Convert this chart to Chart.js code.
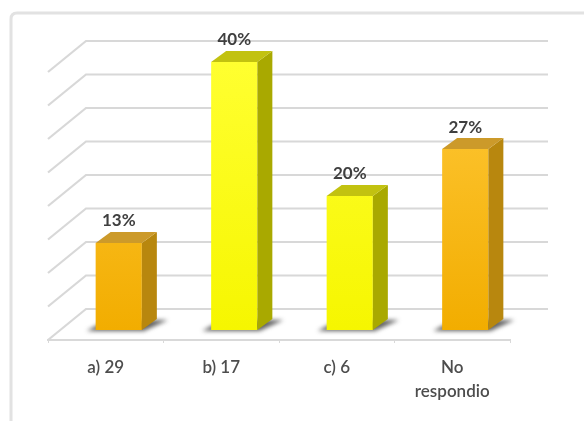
<!DOCTYPE html>
<html>
<head>
<meta charset="utf-8">
<script src="https://cdn.jsdelivr.net/npm/chart.js@4.4.1/dist/chart.umd.min.js"></script>
<style>
  html, body { margin: 0; padding: 0; background: #fff; }
  #wrap { width: 584px; height: 421px; }
</style>
</head>
<body>
<div id="wrap"><canvas id="myChart" width="584" height="421"></canvas></div>
<script>
// answers and their share (%)
var categories = ['a) 29', 'b) 17', 'c) 6', ['No', 'respondio']];
var percents = [13, 40, 20, 27];
var gridTicks = [0, 5, 10, 15, 20, 25, 30, 35, 40];

// face colours of each bar: front (top/bottom of gradient), side, top
var ORANGE = { light: '#FFC93A', dark: '#F2AD00', side: '#B8870E', top: '#CC9A2A' };
var YELLOW = { light: '#FFFF30', dark: '#F6F600', side: '#A9A900', top: '#C2C210' };
var colors = [ORANGE, YELLOW, YELLOW, ORANGE];

// 3d offsets: back wall, bars sitting mid-depth, bar thickness
var WALL_DX = 38, WALL_DY = -31;
var BAR_DX = 13, BAR_DY = -10;
var DEPTH_DX = 15, DEPTH_DY = -11;

function poly(ctx, pts) {
    ctx.beginPath();
    ctx.moveTo(pts[0][0], pts[0][1]);
    for (var i = 1; i < pts.length; i++) ctx.lineTo(pts[i][0], pts[i][1]);
    ctx.closePath();
}

var box3d = {
    id: 'box3d',
    beforeDraw: function (chart) {
        var ctx = chart.ctx;
        ctx.save();
        ctx.fillStyle = '#fff';
        ctx.fillRect(0, 0, chart.width, chart.height);
        // frame around the chart
        ctx.strokeStyle = '#e2e2e2';
        ctx.lineWidth = 3;
        ctx.beginPath();
        ctx.moveTo(11, 500);
        ctx.lineTo(11, 19);
        ctx.quadraticCurveTo(11, 13, 17, 13);
        ctx.lineTo(700, 13);
        ctx.stroke();
        ctx.restore();
    },
    beforeDatasetsDraw: function (chart) {
        var ctx = chart.ctx, area = chart.chartArea, y = chart.scales.y;
        ctx.save();
        // side wall + back wall gridlines
        ctx.strokeStyle = '#d8d8d8';
        ctx.lineWidth = 2.2;
        gridTicks.forEach(function (v) {
            var py = y.getPixelForValue(v);
            ctx.beginPath();
            ctx.moveTo(area.left, py);
            ctx.lineTo(area.left + WALL_DX, py + WALL_DY);
            ctx.lineTo(area.right + WALL_DX, py + WALL_DY);
            ctx.stroke();
        });
        // soft shadow under each bar
        var meta = chart.getDatasetMeta(0);
        ctx.filter = 'blur(2px)';
        ctx.fillStyle = 'rgba(45,45,45,0.75)';
        meta.data.forEach(function (bar) {
            var l = bar.x - bar.width / 2 + BAR_DX, r = bar.x + bar.width / 2 + BAR_DX, b = bar.base + BAR_DY;
            poly(ctx, [[l - 9, b + 1], [r + 2, b + 1], [r + DEPTH_DX + 11, b + DEPTH_DY + 1], [l + DEPTH_DX - 4, b + DEPTH_DY + 1]]);
            ctx.fill();
        });
        ctx.filter = 'none';
        ctx.translate(BAR_DX, BAR_DY);
    },
    afterDatasetsDraw: function (chart) {
        var ctx = chart.ctx;
        ctx.restore();
        var meta = chart.getDatasetMeta(0);
        ctx.save();
        meta.data.forEach(function (bar, i) {
            var c = colors[i];
            var l = bar.x - bar.width / 2 + BAR_DX, r = bar.x + bar.width / 2 + BAR_DX;
            var t = bar.y + BAR_DY, b = bar.base + BAR_DY;
            // right side
            ctx.fillStyle = c.side;
            poly(ctx, [[r, t], [r + DEPTH_DX, t + DEPTH_DY], [r + DEPTH_DX, b + DEPTH_DY], [r, b]]);
            ctx.fill();
            // top
            ctx.fillStyle = c.top;
            poly(ctx, [[l, t], [l + DEPTH_DX, t + DEPTH_DY], [r + DEPTH_DX, t + DEPTH_DY], [r, t]]);
            ctx.fill();
            // value label
            ctx.fillStyle = '#3f3f3f';
            ctx.font = 'bold 17px Lato';
            ctx.textAlign = 'center';
            ctx.textBaseline = 'middle';
            ctx.fillText(percents[i] + '%', (l + r) / 2, t - 22);
        });
        ctx.restore();
    }
};

var ctx = document.getElementById('myChart').getContext('2d');
var chart = new Chart(ctx, {
    type: 'bar',
    data: {
        labels: categories,
        datasets: [{
            data: percents,
            backgroundColor: function (c) {
                var area = c.chart.chartArea;
                var col = colors[c.dataIndex];
                if (!area) return col.dark;
                var g = c.chart.ctx.createLinearGradient(0, area.top, 0, area.bottom);
                g.addColorStop(0, col.light);
                g.addColorStop(1, col.dark);
                return g;
            },
            borderWidth: 0,
            barPercentage: 1,
            categoryPercentage: 0.4,
            clip: false
        }]
    },
    options: {
        responsive: false,
        animation: false,
        devicePixelRatio: 1,
        layout: { padding: { left: 48, right: 74, top: 72, bottom: 0 } },
        plugins: { legend: { display: false }, tooltip: { enabled: false } },
        scales: {
            x: {
                grid: { display: true, drawOnChartArea: false, tickLength: 3, color: '#d9d9d9', offset: true },
                border: { display: true, color: '#d9d9d9', width: 2 },
                ticks: {
                    color: '#4d4d4d',
                    font: { family: 'Lato', size: 17, weight: '600', lineHeight: 1.45 },
                    padding: 12,
                    maxRotation: 0,
                    autoSkip: false
                },
                afterFit: function (scale) { scale.height = 81; }
            },
            y: {
                display: false,
                min: 0,
                max: 40,
                ticks: { stepSize: 5 }
            }
        }
    },
    plugins: [box3d]
});
</script>
</body>
</html>
